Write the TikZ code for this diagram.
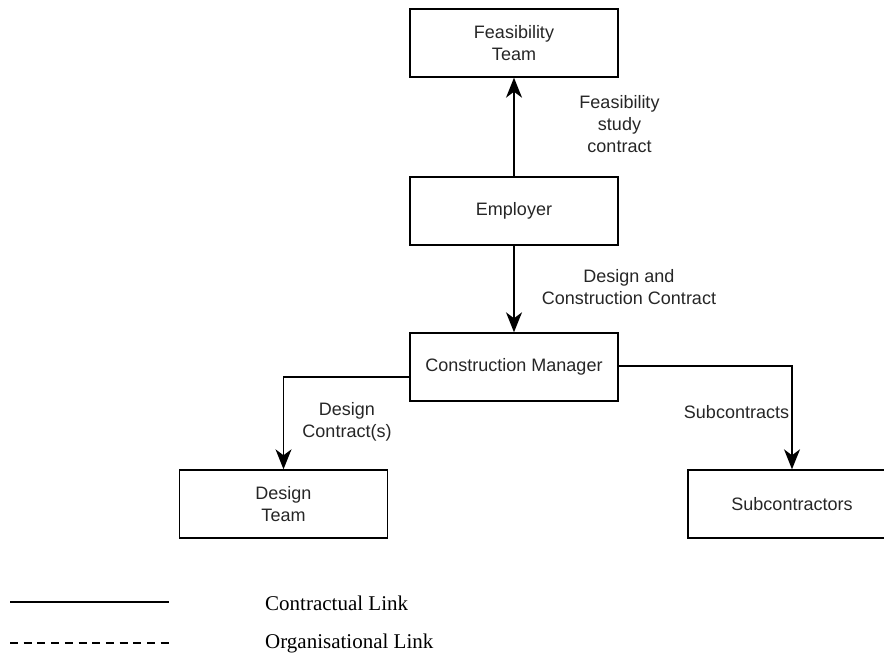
\documentclass[tikz,border=0pt]{standalone}
\usepackage{fontspec}
\setmainfont{Liberation Sans}
\newfontfamily\legendfont{Liberation Serif}
\usetikzlibrary{arrows.meta}

\begin{document}
\begin{tikzpicture}[x=1pt,y=-1pt,
  box/.style={draw, line width=1.4pt, minimum width=208pt, minimum height=68pt,
    inner sep=0pt, align=center, font=\fontsize{18}{22}\selectfont, text=black!85},
  lbl/.style={align=center, font=\fontsize{18}{22}\selectfont, text=black!85, inner sep=0pt},
  link/.style={line width=1.4pt, -{Stealth[length=20pt,width=16pt,inset=6pt]}},
  legline/.style={line width=1.8pt},
  legtext/.style={anchor=west, inner sep=0pt, font=\legendfont\fontsize{21}{25}\selectfont}
]
\useasboundingbox (0,0) rectangle (884,655);
\clip (0,0) rectangle (884,655);

% organisation boxes
\node[box] (feas) at (514,43)  {Feasibility\\Team};
\node[box] (emp)  at (514,211) {Employer};
\node[box] (cm)   at (514,367) {Construction Manager};
\node[box] (dt)   at (283.5,504) {Design\\Team};
\node[box] (sub)  at (792,504) {Subcontractors};

% contracts
\draw[link] (emp) -- (feas);
\draw[link] (emp) -- (cm);
\draw[link] ([yshift=-10pt]cm.west) -| (dt.north);
\draw[link] ([yshift=1pt]cm.east) -| (sub.north);

% contract labels
\node[lbl] (l1) at (619.5,124) {Feasibility\\study\\contract};
\node[lbl] (l2) at (629,287) {Design and\\Construction Contract};
\node[lbl] (l3) at (347,422) {Design\\Contract(s)};
\node[lbl] (l4) at (736.5,412) {Subcontracts};

% legend
\coordinate (a1) at (10,602);  \coordinate (a2) at (169,602);
\coordinate (b1) at (10,643);  \coordinate (b2) at (169,643);
\draw[legline] (a1) -- (a2);
\draw[line width=1.5pt, dash pattern=on 8pt off 5.7pt] (b1) -- (b2);
\node[legtext] (t1) at (265,603) {Contractual Link};
\node[legtext] (t2) at (265,643) {Organisational Link};
\end{tikzpicture}
\end{document}
